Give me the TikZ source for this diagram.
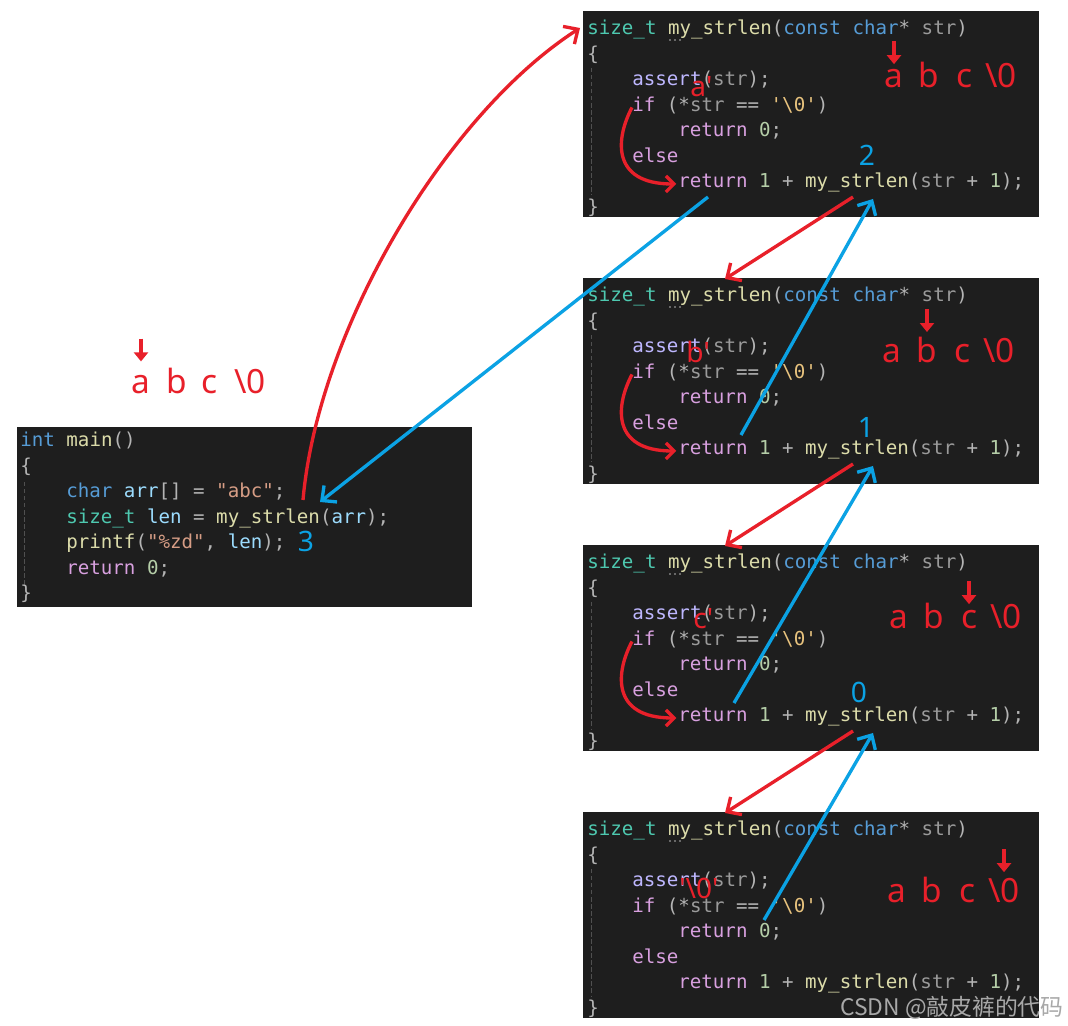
\documentclass[tikz,border=0pt]{standalone}
\usepackage{fontspec}
\setmonofont{DejaVu Sans Mono}
\newfontfamily\notefont{Noto Sans}
\newfontfamily\cjkfont{Noto Sans CJK SC}
\usetikzlibrary{arrows.meta}
\definecolor{codebg}{HTML}{1E1E1E}
\definecolor{cpun}{HTML}{B4B4B4}
\definecolor{ctype}{HTML}{4EC9B0}
\definecolor{cfunc}{HTML}{DCDCAA}
\definecolor{ckey}{HTML}{569CD6}
\definecolor{cparam}{HTML}{9A9A9A}
\definecolor{cvar}{HTML}{9CDCFE}
\definecolor{cmacro}{HTML}{BEB7FF}
\definecolor{cflow}{HTML}{D8A0DF}
\definecolor{cnum}{HTML}{B5CEA8}
\definecolor{cstr}{HTML}{D69D85}
\definecolor{cesc}{HTML}{E8C37E}
\definecolor{guide}{HTML}{505050}
\definecolor{penred}{HTML}{E8202A}
\definecolor{penblue}{HTML}{0BA2E4}
\definecolor{wmgray}{HTML}{A8A8A8}
% syntax colours
\newcommand\Ty[1]{\textcolor{ctype}{#1}}
\newcommand\Fn[1]{\textcolor{cfunc}{#1}}
\newcommand\Kw[1]{\textcolor{ckey}{#1}}
\newcommand\Pa[1]{\textcolor{cparam}{#1}}
\newcommand\Va[1]{\textcolor{cvar}{#1}}
\newcommand\Mc[1]{\textcolor{cmacro}{#1}}
\newcommand\Ct[1]{\textcolor{cflow}{#1}}
\newcommand\Nu[1]{\textcolor{cnum}{#1}}
\newcommand\St[1]{\textcolor{cstr}{#1}}
\newcommand\Es[1]{\textcolor{cesc}{#1}}

\begin{document}
\begin{tikzpicture}[x=0.02cm,y=-0.02cm,
  codeline/.style={anchor=mid west,inner sep=0pt,text=cpun,font=\ttfamily\fontsize{10.9}{13}\selectfont},
  panel/.style={fill=codebg},
  chr/.style={anchor=base,inner sep=0pt,text=penred,font=\notefont\fontsize{19}{22}\selectfont},
  over/.style={anchor=base west,inner sep=0pt,text=penred,font=\notefont\fontsize{16}{18}\selectfont},
  num/.style={inner sep=0pt,text=penblue,font=\notefont\fontsize{16}{18}\selectfont},
  redline/.style={draw=penred,line width=1.9pt,-{Straight Barb[length=2.2mm,width=4.2mm]}},
  blueline/.style={draw=penblue,line width=1.9pt,-{Straight Barb[length=2.2mm,width=4.2mm]}},
  flow/.style={draw=penred,line width=1.9pt,-{Straight Barb[length=1.6mm,width=3.2mm]}},
  ptr/.style={draw=penred,line width=1.9pt,-{Triangle[length=1.8mm,width=2.8mm]}},
  guideline/.style={draw=guide,dash pattern=on 2.5pt off 1.5pt,line width=0.5pt}]
  \useasboundingbox (0,0) rectangle (1068,1026);
  \fill[white] (0,0) rectangle (1068,1026);

  % main()
  \fill[panel] (17,427) rectangle (472,607);
  \draw[guideline] (24,482) -- (24,585);
  \node[codeline] (l0-0) at (20,443) {\Kw{int} \Fn{main}()};
  \node[codeline] (l0-1) at (20,468.5) {\{};
  \node[codeline] (l0-2) at (66,494) {\Kw{char} \Va{arr}[] = \St{"abc"};};
  \node[codeline] (l0-3) at (66,519.5) {\Ty{size\_t} \Va{len} = \Fn{my\_strlen}(\Va{arr});};
  \node[codeline] (l0-4) at (66,545) {\Fn{printf}(\St{"\%zd"}, \Va{len});};
  \node[codeline] (l0-5) at (66,570.5) {\Ct{return} \Nu{0};};
  \node[codeline] (l0-6) at (20,596) {\}};

  % the four calls of my_strlen
  \foreach \p/\T in {1/11,2/278,3/545,4/812}{
    \fill[panel] (583,\T) rectangle (1039,\T+206);
    \draw[guideline] (591,\T+57) -- (591,\T+184);
    \node[codeline] (l\p-0) at (587,\T+20) {\Ty{size\_t} \Fn{my\_strlen}(\Kw{const} \Kw{char}* \Pa{str})};
    \node[codeline] (l\p-1) at (587,\T+45.5) {\{};
    \node[codeline] (l\p-2) at (632,\T+71) {\Mc{assert}(\Pa{str});};
    \node[codeline] (l\p-3) at (632,\T+96.5) {\Ct{if} (*\Pa{str} == \Es{'\textbackslash 0'})};
    \node[codeline] (l\p-4) at (678,\T+122) {\Ct{return} \Nu{0};};
    \node[codeline] (l\p-5) at (632,\T+147.5) {\Ct{else}};
    \node[codeline] (l\p-6) at (678,\T+173) {\Ct{return} \Nu{1} + \Fn{my\_strlen}(\Pa{str} + \Nu{1});};
    \node[codeline] (l\p-7) at (587,\T+198.5) {\}};
    \foreach \d in {0,5,10}
      \fill[cpun] (670+\d,\T+29) circle (0.9);
    \coordinate (recur\p) at (853,\T+186);
    \coordinate (back\p) at (873,\T+188);
    \coordinate (top\p) at (725,\T+1);
  }

  % the string as each call sees it
  \foreach \p/\X/\B/\O/\Ox/\Oy in {1/894/88/{a\textquotesingle}/690/97,
      2/892/363/{b\textquotesingle}/686/363,
      3/899/628/{c\textquotesingle}/693/628,
      4/897/902/{\textquotesingle\textbackslash 0\textquotesingle}/679/898}{
    \foreach \c/\o [count=\i] in {a/0,b/35,c/70,\textbackslash 0/107}
      \node[chr] (ch\p-\i) at (\X+\o,\B) {\c};
    \draw[ptr] ([yshift=16pt]ch\p-\p.north) -- ([yshift=3pt]ch\p-\p.north);
    \node[over] (cur\p) at (\Ox,\Oy) {\O};
  }
  \foreach \c/\o [count=\i] in {a/0,b/36,c/69,\textbackslash 0/109}
    \node[chr] (ch0-\i) at (141+\o,394) {\c};
  \draw[ptr] ([yshift=21pt]ch0-1.north) -- ([yshift=8pt]ch0-1.north);

  % if -> else branch
  \foreach \p in {1,2,3}
    \draw[flow] (l\p-3.mid west) .. controls +(-16,30) and +(-66,0) .. ([xshift=-1pt]l\p-6.mid west);

  % calls and returns
  \coordinate (callsite) at (303,500);
  \coordinate (retsite) at (320,502);
  \coordinate (entry1) at (580,28);
  \coordinate (leave1) at (708,197);
  \coordinate (leave2) at (741,435);
  \coordinate (leave3) at (734,703);
  \coordinate (leave4) at (764,920);
  \draw[redline] (callsite) .. controls (318,330) and (445,115) .. (entry1);
  \draw[blueline] (leave1) -- (retsite);
  \foreach \p/\q in {1/2,2/3,3/4}{
    \draw[redline] (recur\p) -- (top\q);
    \draw[blueline] (leave\q) -- (back\p);
  }

  % returned values
  \node[num] (n1) at (867,155) {2};
  \node[num] (n2) at (866,427) {1};
  \node[num] (n3) at (859,692) {0};
  \node[num] (n0) at (306,541) {3};

  \node[anchor=east,inner sep=0pt,text=wmgray,font=\cjkfont\fontsize{13}{15}\selectfont] (wm) at (1064,1008) {CSDN @敲皮裤的代码};
\end{tikzpicture}
\end{document}
